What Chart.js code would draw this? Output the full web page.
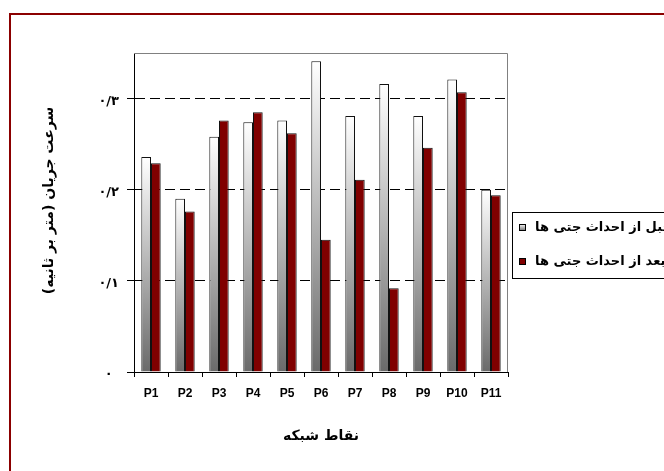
<!DOCTYPE html>
<html lang="fa">
<head>
<meta charset="utf-8">
<title>سرعت جریان در نقاط شبکه</title>
<script src="https://cdn.jsdelivr.net/npm/chart.js@4/dist/chart.umd.min.js"></script>
<style>
  html, body { margin: 0; padding: 0; background: #fff; overflow: hidden; }
  #wrap { position: relative; width: 664px; height: 471px; overflow: hidden; }
  #frame {
    position: absolute; left: 9px; top: 13px; width: 900px; height: 700px;
    border-left: 2px solid #8b0000; border-top: 2px solid #8b0000;
    box-sizing: border-box;
  }
  #chart { position: absolute; left: 0; top: 0; }
</style>
</head>
<body>
<div id="wrap">
  <div id="frame"></div>
  <canvas id="chart" width="664" height="471"></canvas>
</div>
<script>
// Flow velocity at each network point, before and after building the jetties
const categories = ['P1', 'P2', 'P3', 'P4', 'P5', 'P6', 'P7', 'P8', 'P9', 'P10', 'P11'];
const beforeJetties = [0.236, 0.190, 0.258, 0.274, 0.276, 0.341, 0.281, 0.316, 0.281, 0.321, 0.200];
const afterJetties  = [0.229, 0.176, 0.276, 0.285, 0.262, 0.145, 0.211, 0.092, 0.246, 0.307, 0.194];
const seriesNames = ['قبل از احداث جتی ها', 'بعد از احداث جتی ها'];
const yTickValues = [0, 0.1, 0.2, 0.3];
const yTickLabels = ['۰', '۰/۱', '۰/۲', '۰/۳'];
const yTitle = 'سرعت جریان (متر بر ثانیه)';
const xTitle = 'نقاط شبکه';

const FA_FONT = '"DejaVu Sans", sans-serif';
const LATIN_FONT = '"Liberation Sans", Arial, sans-serif';

// White-to-grey vertical gradient spanning one bar
function greyGradient(ctx, top, bottom) {
  const g = ctx.createLinearGradient(0, top, 0, bottom);
  g.addColorStop(0, '#ffffff');
  g.addColorStop(1, '#6a6a6a');
  return g;
}

function beforeFill(c) {
  const chart = c.chart;
  const y = chart.scales.y;
  if (c.type !== 'data' || !y || !chart.chartArea) return '#d0d0d0';
  return greyGradient(chart.ctx, y.getPixelForValue(c.raw), y.getPixelForValue(0));
}

// Grey frame on the top and right of the plot area
const plotFrame = {
  id: 'plotFrame',
  beforeDatasetsDraw(chart) {
    const { ctx, chartArea: a } = chart;
    ctx.save();
    ctx.strokeStyle = '#808080';
    ctx.lineWidth = 1;
    ctx.beginPath();
    ctx.moveTo(a.left, a.top + 0.5);
    ctx.lineTo(a.right - 0.5, a.top + 0.5);
    ctx.lineTo(a.right - 0.5, a.bottom);
    ctx.stroke();
    ctx.restore();
  }
};

// Rotated title for the value axis
const valueAxisTitle = {
  id: 'valueAxisTitle',
  afterDraw(chart) {
    const { ctx, chartArea: a } = chart;
    ctx.save();
    ctx.translate(49, (a.top + a.bottom) / 2 - 12);
    ctx.rotate(-Math.PI / 2);
    ctx.direction = 'rtl';
    ctx.font = 'bold 14px ' + FA_FONT;
    ctx.fillStyle = '#000';
    ctx.textAlign = 'center';
    ctx.textBaseline = 'middle';
    ctx.fillText(yTitle, 0, 0);
    ctx.restore();
  }
};

// Boxed legend to the right of the plot
const sideLegend = {
  id: 'sideLegend',
  afterDraw(chart) {
    const { ctx } = chart;
    const boxX = 512.5, boxY = 212.5, boxW = 220, boxH = 66;
    ctx.save();
    ctx.fillStyle = '#fff';
    ctx.fillRect(boxX, boxY, boxW, boxH);
    ctx.strokeStyle = '#000';
    ctx.lineWidth = 1;
    ctx.strokeRect(boxX, boxY, boxW, boxH);
    const rows = [228, 262];
    chart.data.datasets.forEach((ds, i) => {
      const cy = rows[i];
      const mx = 519, my = cy - 4, ms = 7;
      ctx.fillStyle = i === 0 ? greyGradient(ctx, my, my + ms) : ds.backgroundColor;
      ctx.fillRect(mx, my, ms, ms);
      ctx.strokeStyle = '#000';
      ctx.strokeRect(mx + 0.5, my + 0.5, ms - 1, ms - 1);
      ctx.fillStyle = '#000';
      ctx.direction = 'rtl';
      ctx.font = 'bold 13px ' + FA_FONT;
      ctx.textAlign = 'left';
      ctx.textBaseline = 'middle';
      ctx.fillText(ds.label, 535, cy);
    });
    ctx.restore();
  }
};

new Chart(document.getElementById('chart'), {
  type: 'bar',
  data: {
    labels: categories,
    datasets: [
      {
        label: seriesNames[0],
        data: beforeJetties,
        backgroundColor: beforeFill,
        borderColor: '#111',
        borderWidth: 1,
        barPercentage: 1,
        categoryPercentage: 0.57
      },
      {
        label: seriesNames[1],
        data: afterJetties,
        backgroundColor: '#800000',
        borderColor: '#111',
        borderWidth: 1,
        barPercentage: 1,
        categoryPercentage: 0.57
      }
    ]
  },
  options: {
    responsive: false,
    animation: false,
    events: [],
    layout: { padding: { left: 0, top: 53, right: 156, bottom: 0 } },
    plugins: {
      legend: { display: false },
      tooltip: { enabled: false },
      title: { display: false }
    },
    scales: {
      x: {
        grid: {
          display: true,
          offset: true,
          drawOnChartArea: false,
          drawTicks: true,
          tickLength: 5,
          tickColor: '#000',
          tickWidth: 1
        },
        border: { display: true, color: '#000', width: 1 },
        ticks: {
          color: '#000',
          padding: 9,
          font: { family: LATIN_FONT, size: 12, weight: 'bold' }
        },
        title: {
          display: true,
          text: xTitle,
          color: '#000',
          font: { family: FA_FONT, size: 14, weight: 'bold' },
          padding: { top: 0, bottom: 26 }
        },
        afterFit(s) { s.height = 99; }
      },
      y: {
        min: 0,
        max: 0.35,
        afterBuildTicks(s) { s.ticks = yTickValues.map(v => ({ value: v })); },
        grid: {
          color: '#000',
          lineWidth: 1,
          drawTicks: true,
          tickLength: 7,
          tickColor: '#000',
          tickWidth: 1,
          tickBorderDash: []
        },
        border: { display: true, color: '#000', width: 1, dash: [10, 5] },
        ticks: {
          color: '#000',
          padding: 8,
          crossAlign: 'center',
          labelOffset: 3,
          font: { family: FA_FONT, size: 13, weight: 'bold' },
          callback(value, index) { return yTickLabels[index]; }
        },
        afterFit(s) { s.width = 134; }
      }
    }
  },
  plugins: [plotFrame, valueAxisTitle, sideLegend]
});
</script>
</body>
</html>
